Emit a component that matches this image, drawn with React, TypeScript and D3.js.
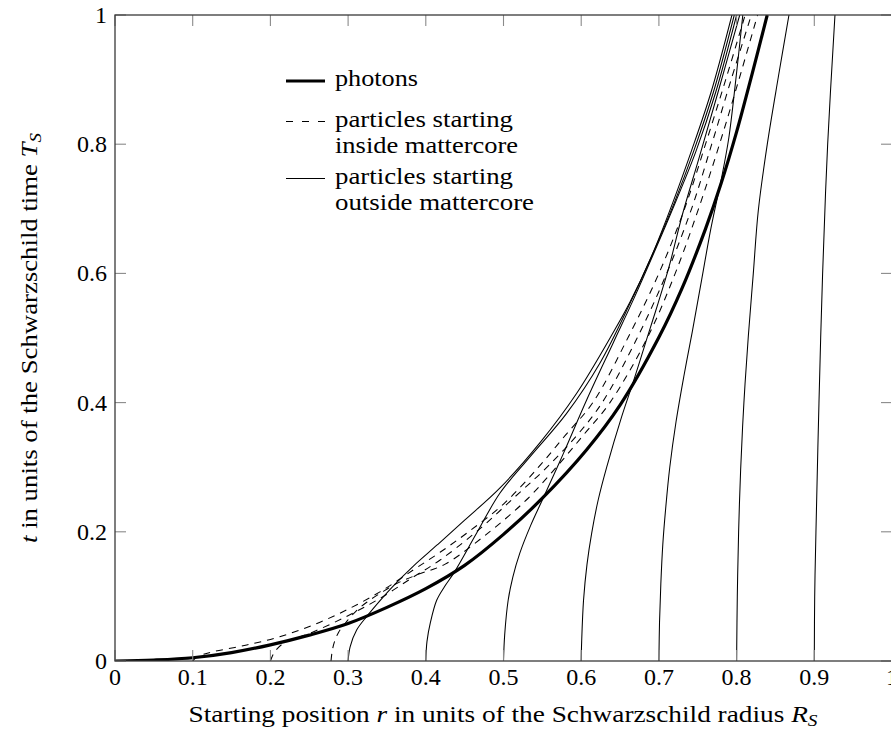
import { useEffect, useRef } from 'react';
import * as d3 from 'd3';

type Pt = [number, number]; // [r, t]

const rTicks = [0, 0.1, 0.2, 0.3, 0.4, 0.5, 0.6, 0.7, 0.8, 0.9, 1];
const tTicks = [0, 0.2, 0.4, 0.6, 0.8, 1];

// photon worldline
const photons: Pt[] = [
    [0, 0], [0.05, 0.0015], [0.1, 0.005], [0.15, 0.013], [0.2, 0.025], [0.25, 0.04],
    [0.3, 0.058], [0.35, 0.083], [0.4, 0.112], [0.45, 0.148], [0.5, 0.196], [0.55, 0.252],
    [0.607, 0.327], [0.65, 0.396], [0.7, 0.501], [0.73, 0.5775], [0.76, 0.669], [0.78, 0.739],
    [0.8, 0.819], [0.82, 0.909], [0.8394, 1],
];

// particles starting inside the mattercore (dashed)
const inside010: Pt[] = [
    [0.1, 0], [0.104, 0.005], [0.113, 0.01], [0.1265, 0.0144], [0.1695, 0.0248], [0.212, 0.0376],
    [0.255, 0.0557], [0.298, 0.079], [0.341, 0.107], [0.384, 0.141], [0.418, 0.168], [0.455, 0.2],
    [0.5, 0.243], [0.545, 0.3], [0.58, 0.35], [0.615, 0.4], [0.66, 0.5], [0.7, 0.6],
    [0.733, 0.7], [0.76, 0.8], [0.786, 0.9], [0.811, 1],
];
const inside020: Pt[] = [
    [0.2, 0], [0.2035, 0.01], [0.208, 0.018], [0.2166, 0.027], [0.235, 0.036], [0.255, 0.045],
    [0.298, 0.069], [0.341, 0.097], [0.384, 0.13], [0.418, 0.156], [0.465, 0.2], [0.52, 0.26],
    [0.556, 0.3], [0.595, 0.35], [0.627, 0.4], [0.672, 0.5], [0.71, 0.6], [0.742, 0.7],
    [0.768, 0.8], [0.793, 0.9], [0.819, 1],
];
const inside028: Pt[] = [
    [0.278, 0], [0.2795, 0.015], [0.2825, 0.03], [0.288, 0.045], [0.298, 0.061], [0.31, 0.077],
    [0.324, 0.091], [0.343, 0.106], [0.3625, 0.12], [0.39, 0.134], [0.425, 0.15], [0.482, 0.2],
    [0.53, 0.25], [0.568, 0.3], [0.603, 0.35], [0.637, 0.4], [0.685, 0.5], [0.721, 0.6],
    [0.751, 0.7], [0.778, 0.8], [0.803, 0.9], [0.827, 1],
];

// particles starting outside the mattercore (solid)
const outside03: Pt[] = [
    [0.3, 0], [0.3026, 0.022], [0.311, 0.048], [0.324, 0.069], [0.34, 0.092], [0.358, 0.116],
    [0.384, 0.147], [0.415, 0.18], [0.45, 0.218], [0.4955, 0.268], [0.547, 0.338], [0.594, 0.414],
    [0.641, 0.508], [0.663, 0.556], [0.69, 0.625], [0.718, 0.71], [0.742, 0.79], [0.767, 0.88],
    [0.794, 1],
];
const outside04: Pt[] = [
    [0.4, 0], [0.4015, 0.03], [0.406, 0.06], [0.414, 0.094], [0.424, 0.115], [0.437, 0.138],
    [0.4655, 0.198], [0.4955, 0.26], [0.534, 0.316], [0.581, 0.383], [0.624, 0.461], [0.663, 0.554],
    [0.69, 0.625], [0.72, 0.71], [0.745, 0.79], [0.77, 0.88], [0.797, 1],
];
const outside05: Pt[] = [
    [0.5, 0], [0.5015, 0.04], [0.506, 0.094], [0.512, 0.13], [0.521, 0.167], [0.535, 0.21],
    [0.551, 0.252], [0.577, 0.321], [0.607, 0.404], [0.641, 0.492], [0.667, 0.559], [0.693, 0.63],
    [0.722, 0.712], [0.748, 0.79], [0.773, 0.88], [0.8, 1],
];
const outside06: Pt[] = [
    [0.6, 0], [0.6006, 0.03], [0.603, 0.094], [0.6075, 0.15], [0.6135, 0.198], [0.622, 0.25],
    [0.633, 0.301], [0.652, 0.378], [0.667, 0.432], [0.684, 0.497], [0.699, 0.554], [0.713, 0.61],
    [0.73, 0.69], [0.752, 0.78], [0.776, 0.88], [0.804, 1],
];
const outside07: Pt[] = [
    [0.7, 0], [0.7008, 0.06], [0.7025, 0.12], [0.705, 0.18], [0.709, 0.24], [0.714, 0.3],
    [0.722, 0.37], [0.732, 0.44], [0.743, 0.51], [0.755, 0.59], [0.767, 0.67], [0.781, 0.75],
    [0.79, 0.81], [0.799, 0.9], [0.808, 1],
];
const outside08: Pt[] = [
    [0.8, 0], [0.8009, 0.1], [0.8026, 0.2], [0.8052, 0.296], [0.8094, 0.4], [0.8151, 0.503],
    [0.8215, 0.6], [0.8279, 0.697], [0.8395, 0.8], [0.8537, 0.904], [0.8674, 1],
];
const outside09: Pt[] = [
    [0.9, 0], [0.9005, 0.1], [0.9021, 0.199], [0.906, 0.399], [0.9107, 0.6], [0.9172, 0.8], [0.9266, 1],
];

const insideParticles = [inside010, inside020, inside028];
const outsideParticles = [outside03, outside04, outside05, outside06, outside07, outside08, outside09];

const legendRows = [
    { lines: ['photons'], widths: [83], style: 'photon' },
    { lines: ['particles starting', 'inside mattercore'], widths: [178, 183], style: 'inside' },
    { lines: ['particles starting', 'outside mattercore'], widths: [178, 199], style: 'outside' },
];

const FONT = "'Liberation Serif', 'DejaVu Serif', Tinos, 'Times New Roman', serif";

const WorldlineChart = () => {
    const svgRef = useRef<SVGSVGElement | null>(null);

    useEffect(() => {
        if (!svgRef.current) return;
        const width = 891;
        const height = 730;
        const margin = { left: 115, right: 892, top: 15, bottom: 661 };

        const svg = d3.select(svgRef.current)
            .attr('width', width)
            .attr('height', height)
            .style('font-family', FONT);

        // Clear previous render
        svg.selectAll('*').remove();

        const x = d3.scaleLinear().domain([0, 1]).range([margin.left, margin.right]);
        const y = d3.scaleLinear().domain([0, 1]).range([margin.bottom, margin.top]);

        svg.append('defs').append('clipPath').attr('id', 'plot-clip')
            .append('rect')
            .attr('x', margin.left).attr('y', margin.top)
            .attr('width', margin.right - margin.left)
            .attr('height', margin.bottom - margin.top);

        const line = d3.line<Pt>()
            .x(d => x(d[0]))
            .y(d => y(d[1]))
            .curve(d3.curveCatmullRom.alpha(0.5));

        const plot = svg.append('g').attr('clip-path', 'url(#plot-clip)');

        plot.selectAll('.outside')
            .data(outsideParticles)
            .join('path')
            .attr('class', 'outside')
            .attr('d', line)
            .attr('fill', 'none')
            .attr('stroke', '#000')
            .attr('stroke-width', 1.05);

        plot.selectAll('.inside')
            .data(insideParticles)
            .join('path')
            .attr('class', 'inside')
            .attr('d', line)
            .attr('fill', 'none')
            .attr('stroke', '#000')
            .attr('stroke-width', 1.05)
            .attr('stroke-dasharray', '7,6');

        plot.append('path')
            .datum(photons)
            .attr('d', line)
            .attr('fill', 'none')
            .attr('stroke', '#000')
            .attr('stroke-width', 3.2);

        // ticks on all four sides, pointing inwards
        const tickLen = 11;
        const ticks = svg.append('g').attr('stroke', '#8a8a8a').attr('stroke-width', 1.1);
        rTicks.forEach(r => {
            ticks.append('line').attr('x1', x(r)).attr('x2', x(r))
                .attr('y1', margin.bottom).attr('y2', margin.bottom - tickLen);
            ticks.append('line').attr('x1', x(r)).attr('x2', x(r))
                .attr('y1', margin.top).attr('y2', margin.top + tickLen);
        });
        tTicks.forEach(t => {
            ticks.append('line').attr('x1', margin.left).attr('x2', margin.left + tickLen)
                .attr('y1', y(t)).attr('y2', y(t));
            ticks.append('line').attr('x1', margin.right).attr('x2', margin.right - tickLen)
                .attr('y1', y(t)).attr('y2', y(t));
        });

        // frame
        svg.append('rect')
            .attr('x', margin.left).attr('y', margin.top)
            .attr('width', margin.right - margin.left)
            .attr('height', margin.bottom - margin.top)
            .attr('fill', 'none')
            .attr('stroke', '#3a3a3a')
            .attr('stroke-width', 1.3);

        svg.append('g').selectAll('text')
            .data(rTicks)
            .join('text')
            .attr('x', d => x(d))
            .attr('y', 685)
            .attr('text-anchor', 'middle')
            .attr('font-size', 24)
            .text(d => String(d));

        svg.append('g').selectAll('text')
            .data(tTicks)
            .join('text')
            .attr('x', 107)
            .attr('y', d => y(d) + 8)
            .attr('text-anchor', 'end')
            .attr('font-size', 24)
            .text(d => String(d));

        // x label
        const xl = svg.append('text')
            .attr('x', 503)
            .attr('y', 722)
            .attr('text-anchor', 'middle')
            .attr('font-size', 24)
            .attr('textLength', 629)
            .attr('lengthAdjust', 'spacingAndGlyphs');
        xl.append('tspan').text('Starting position ');
        xl.append('tspan').attr('font-style', 'italic').text('r');
        xl.append('tspan').text(' in units of the Schwarzschild radius ');
        xl.append('tspan').attr('font-style', 'italic').text('R');
        xl.append('tspan').attr('font-style', 'italic').attr('font-size', 17).attr('dy', 4).text('S');

        // y label
        const yl = svg.append('text')
            .attr('transform', `translate(37, 338) rotate(-90)`)
            .attr('text-anchor', 'middle')
            .attr('font-size', 24)
            .attr('textLength', 410)
            .attr('lengthAdjust', 'spacingAndGlyphs');
        yl.append('tspan').attr('font-style', 'italic').text('t');
        yl.append('tspan').text(' in units of the Schwarzschild time ');
        yl.append('tspan').attr('font-style', 'italic').text('T');
        yl.append('tspan').attr('font-style', 'italic').attr('font-size', 17).attr('dy', 4).text('S');

        // legend
        const legendTop = [81, 121.5, 178.5];
        const legend = svg.append('g');
        legendRows.forEach((row, i) => {
            const ly = legendTop[i];
            const sample = legend.append('line')
                .attr('x1', 286).attr('x2', 325)
                .attr('y1', ly).attr('y2', ly)
                .attr('stroke', '#000')
                .attr('stroke-width', row.style === 'photon' ? 3.2 : 1.05);
            if (row.style === 'inside') sample.attr('stroke-dasharray', '7,9');
            row.lines.forEach((txt, j) => {
                legend.append('text')
                    .attr('x', 335)
                    .attr('y', ly + 5 + j * 26)
                    .attr('font-size', 24)
                    .attr('textLength', row.widths[j])
                    .attr('lengthAdjust', 'spacingAndGlyphs')
                    .text(txt);
            });
        });
    }, []);

    return (
        <svg ref={svgRef} width={891} height={730}
            style={{ position: 'absolute', left: 0, top: 0, background: '#fff' }} />
    );
};

export default function App() {
    return <WorldlineChart />;
}
